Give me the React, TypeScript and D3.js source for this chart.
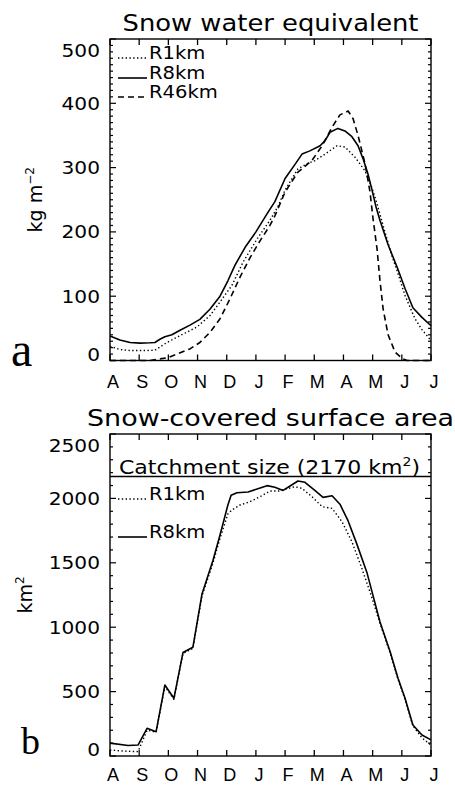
import React, { useEffect, useRef } from 'react';
import * as d3 from 'd3';

const months = ['A', 'S', 'O', 'N', 'D', 'J', 'F', 'M', 'A', 'M', 'J', 'J'];

// (a) snow water equivalent, kg m-2; time = months since 1 August
const sweR1T = [0, 0.34, 0.69, 1.2, 1.54, 1.95, 2.5, 2.98, 3.43, 3.77, 4.18, 4.56, 5.04, 5.48, 5.76, 6.0, 6.44, 6.75, 7.03, 7.37, 7.78, 8.05, 8.4, 8.74, 8.98, 9.15, 9.42, 9.66, 9.87, 10.11, 10.45, 10.69, 11.0];
const sweR1 = [22, 17, 15.5, 15.5, 16, 28, 41, 52, 70, 91, 117, 153, 189, 218, 240, 265, 298, 306, 311, 321, 334, 332, 316, 295, 268, 244, 200, 163, 135, 101, 65, 48, 31];

const sweR8T = [0, 0.34, 0.69, 1.03, 1.37, 1.54, 1.71, 1.88, 2.12, 2.4, 2.74, 3.08, 3.43, 3.77, 4.04, 4.28, 4.63, 5.0, 5.38, 5.65, 6.0, 6.34, 6.58, 6.85, 7.2, 7.37, 7.54, 7.81, 8.05, 8.29, 8.5, 8.67, 8.84, 8.98, 9.11, 9.25, 9.53, 9.84, 10.11, 10.38, 10.69, 11.0];
const sweR8 = [38, 32, 28, 27, 27.5, 28, 33, 37, 40, 47, 55, 64, 80, 100, 124, 148, 176, 200, 228, 247, 283, 305, 321, 326, 334, 342, 355, 361, 357, 348, 334, 314, 290, 265, 240, 218, 180, 145, 112, 82, 67, 54];

const sweR46T = [0, 1.37, 1.61, 1.95, 2.3, 2.74, 3.08, 3.43, 3.77, 4.08, 4.46, 4.8, 5.14, 5.48, 5.65, 6.0, 6.44, 6.92, 7.27, 7.61, 7.88, 8.16, 8.33, 8.5, 8.74, 8.91, 9.01, 9.15, 9.25, 9.36, 9.53, 9.77, 10.01, 10.18, 11.0];
const sweR46 = [0, 0, 2, 4, 10, 18, 28, 44, 65, 93, 130, 160, 186, 210, 225, 262, 293, 311, 334, 363, 382, 388, 376, 350, 306, 262, 222, 174, 125, 80, 40, 13, 3, 0, 0];

// (b) snow-covered surface area, km2
const areaR1T = [0, 0.34, 0.69, 0.96, 1.27, 1.58, 1.88, 2.19, 2.5, 2.84, 3.15, 3.53, 3.77, 4.04, 4.18, 4.46, 4.8, 5.14, 5.48, 5.76, 6.34, 6.58, 6.92, 7.27, 7.61, 7.95, 8.29, 8.63, 8.98, 9.25, 9.6, 9.87, 10.11, 10.38, 10.69, 11.0];
const areaR1 = [47, 40, 36, 34, 200, 185, 540, 440, 795, 835, 1240, 1500, 1690, 1880, 1910, 1949, 1975, 2013, 2057, 2057, 2091, 2078, 2013, 1936, 1923, 1819, 1664, 1457, 1227, 1030, 800, 595, 440, 235, 140, 85];

const areaR8T = [0, 0.62, 0.96, 1.27, 1.58, 1.88, 2.19, 2.5, 2.84, 3.15, 3.53, 3.77, 4.04, 4.15, 4.35, 4.73, 5.04, 5.38, 5.65, 5.93, 6.17, 6.44, 6.68, 7.03, 7.3, 7.61, 7.88, 8.16, 8.46, 8.81, 9.25, 9.6, 9.87, 10.11, 10.38, 10.69, 11.0];
const areaR8 = [100, 82, 85, 215, 189, 551, 448, 803, 844, 1255, 1520, 1716, 1949, 2025, 2044, 2050, 2073, 2099, 2086, 2062, 2096, 2135, 2125, 2060, 2008, 2021, 1955, 1825, 1645, 1420, 1043, 810, 603, 448, 241, 163, 125];

const catchmentSize = 2170;

const FONT = '"DejaVu Sans", sans-serif';
const MONTH_FONT = '"Liberation Sans", Arial, sans-serif';

interface Series {
  name: string;
  t: number[];
  v: number[];
  dash: string | null;
}

interface PanelOpts {
  top: number;
  bottom: number;
  yMax: number;
  yMajor: number;
  yMinor: number;
  title: string;
  titleY: number;
  titleLen: number;
  monthDy: number;
  series: Series[];
  legendY: number[];
  letter: string;
  letterX: number;
  letterY: number;
  letterSize: number;
}

type Sel = d3.Selection<SVGSVGElement, unknown, null, undefined>;

// stretch a text sideways, the plotting font is wider than ours
function widen(t: d3.Selection<SVGTextElement, unknown, null, undefined>, k: number) {
  const n = t.node();
  if (!n) return;
  const w = n.getComputedTextLength();
  if (w > 0) t.attr('textLength', w * k).attr('lengthAdjust', 'spacingAndGlyphs');
}

function drawPanel(svg: Sel, o: PanelOpts) {
  const x = d3.scaleLinear().domain([0, 11]).range([110, 431]);
  const y = d3.scaleLinear().domain([0, o.yMax]).range([o.bottom, o.top]);
  const [x0, x1] = x.range();
  const g = svg.append('g');

  const line = d3
    .line<[number, number]>()
    .x((d) => x(d[0]))
    .y((d) => y(d[1]));

  o.series.forEach((s) => {
    const pts = s.t.map((t, i) => [t, s.v[i]] as [number, number]);
    g.append('path')
      .attr('d', line(pts))
      .attr('fill', 'none')
      .attr('stroke', '#000')
      .attr('stroke-width', s.dash === '1.4,2.4' ? 1.4 : 1.6)
      .attr('stroke-linejoin', 'round')
      .attr('stroke-dasharray', s.dash);
  });

  // frame
  g.append('rect')
    .attr('x', x0)
    .attr('y', o.top)
    .attr('width', x1 - x0)
    .attr('height', o.bottom - o.top)
    .attr('fill', 'none')
    .attr('stroke', '#000')
    .attr('stroke-width', 1.4);

  // month ticks, top and bottom, pointing in
  months.forEach((m, i) => {
    const px = x(i);
    g.append('line').attr('x1', px).attr('x2', px).attr('y1', o.bottom).attr('y2', o.bottom - 6).attr('stroke', '#000').attr('stroke-width', 1.3);
    g.append('line').attr('x1', px).attr('x2', px).attr('y1', o.top).attr('y2', o.top + 6).attr('stroke', '#000').attr('stroke-width', 1.3);
    g.append('text')
      .attr('x', px + 3)
      .attr('y', o.bottom + o.monthDy)
      .attr('text-anchor', 'middle')
      .attr('font-family', MONTH_FONT)
      .attr('font-size', 18)
      .text(m);
  });

  // y ticks left and right
  const majors = d3.range(0, o.yMax + 1, o.yMajor);
  const minors = d3.range(0, o.yMax + 1, o.yMinor).filter((v) => v % o.yMajor !== 0);
  const tick = (v: number, len: number) => {
    g.append('line').attr('x1', x0).attr('x2', x0 + len).attr('y1', y(v)).attr('y2', y(v)).attr('stroke', '#000').attr('stroke-width', 1.2);
    g.append('line').attr('x1', x1).attr('x2', x1 - len).attr('y1', y(v)).attr('y2', y(v)).attr('stroke', '#000').attr('stroke-width', 1.2);
  };
  majors.forEach((v) => tick(v, 6));
  minors.forEach((v) => tick(v, 3));

  majors.forEach((v, i) => {
    const shift = i === 0 ? -6 : i === majors.length - 1 ? 12 : 0;
    const t = g.append('text')
      .attr('x', 100)
      .attr('y', y(v) + shift)
      .attr('dy', '0.36em')
      .attr('text-anchor', 'end')
      .attr('font-family', FONT)
      .attr('font-size', 18)
      .text(String(v));
    widen(t, 1.12);
  });

  // title
  g.append('text')
    .attr('x', (x0 + x1) / 2)
    .attr('y', o.titleY)
    .attr('text-anchor', 'middle')
    .attr('font-family', FONT)
    .attr('font-size', 23)
    .attr('textLength', o.titleLen)
    .attr('lengthAdjust', 'spacingAndGlyphs')
    .text(o.title);

  // legend
  o.series.forEach((s, i) => {
    const ly = o.legendY[i];
    g.append('line')
      .attr('x1', x0 + 8)
      .attr('x2', x0 + 37)
      .attr('y1', ly - 1)
      .attr('y2', ly - 1)
      .attr('stroke', '#000')
      .attr('stroke-width', 1.6)
      .attr('stroke-dasharray', s.dash);
    const t = g.append('text')
      .attr('x', x0 + 39)
      .attr('y', ly)
      .attr('font-family', FONT)
      .attr('font-size', 17)
      .text(s.name);
    widen(t, 1.15);
  });

  // panel letter
  g.append('text')
    .attr('x', o.letterX)
    .attr('y', o.letterY)
    .attr('font-family', '"Liberation Serif", "Times New Roman", serif')
    .attr('font-size', o.letterSize)
    .text(o.letter);

  return { x, y };
}

const App: React.FC = () => {
  const svgRef = useRef<SVGSVGElement>(null);

  useEffect(() => {
    if (!svgRef.current) return;
    const svg = d3.select(svgRef.current);
    svg.selectAll('*').remove();

    svg.append('rect').attr('width', 455).attr('height', 785).attr('fill', '#fff');

    drawPanel(svg, {
      top: 39,
      bottom: 360.5,
      yMax: 500,
      yMajor: 100,
      yMinor: 10,
      title: 'Snow water equivalent',
      titleY: 31,
      titleLen: 296,
      monthDy: 27,
      series: [
        { name: 'R1km', t: sweR1T, v: sweR1, dash: '1.4,2.4' },
        { name: 'R8km', t: sweR8T, v: sweR8, dash: null },
        { name: 'R46km', t: sweR46T, v: sweR46, dash: '6,4' },
      ],
      legendY: [59, 79, 98],
      letter: 'a',
      letterX: 11,
      letterY: 366,
      letterSize: 48,
    });

    const b = drawPanel(svg, {
      top: 434,
      bottom: 756,
      yMax: 2500,
      yMajor: 500,
      yMinor: 100,
      title: 'Snow-covered surface area',
      titleY: 426,
      titleLen: 367,
      monthDy: 24.5,
      series: [
        { name: 'R1km', t: areaR1T, v: areaR1, dash: '1.4,2.4' },
        { name: 'R8km', t: areaR8T, v: areaR8, dash: null },
      ],
      legendY: [500, 538],
      letter: 'b',
      letterX: 21,
      letterY: 754,
      letterSize: 38,
    });

    // catchment size line and label
    const [cx0, cx1] = b.x.range();
    svg.append('line')
      .attr('x1', cx0)
      .attr('x2', cx1)
      .attr('y1', b.y(catchmentSize))
      .attr('y2', b.y(catchmentSize))
      .attr('stroke', '#000')
      .attr('stroke-width', 1.5);
    const ct = svg.append('text')
      .attr('x', cx0 + 9)
      .attr('y', b.y(catchmentSize) - 3)
      .attr('font-family', FONT)
      .attr('font-size', 19)
      .attr('textLength', 301)
      .attr('lengthAdjust', 'spacingAndGlyphs');
    ct.append('tspan').text(`Catchment size (${catchmentSize} km`);
    ct.append('tspan').attr('font-size', 12).attr('dy', -8).text('2');
    ct.append('tspan').attr('dy', 8).text(')');

    // y axis titles
    const t1 = svg.append('text')
      .attr('transform', `translate(42,${(39 + 360.5) / 2}) rotate(-90)`)
      .attr('text-anchor', 'middle')
      .attr('font-family', FONT)
      .attr('font-size', 19);
    t1.append('tspan').text('kg m');
    t1.append('tspan').attr('font-size', 12).attr('dy', -8).text('−2');

    const t2 = svg.append('text')
      .attr('transform', `translate(32,${(434 + 756) / 2}) rotate(-90)`)
      .attr('text-anchor', 'middle')
      .attr('font-family', FONT)
      .attr('font-size', 19);
    t2.append('tspan').text('km');
    t2.append('tspan').attr('font-size', 12).attr('dy', -8).text('2');
  }, []);

  return (
    <svg
      ref={svgRef}
      width={455}
      height={785}
      style={{ position: 'absolute', left: 0, top: 0, display: 'block' }}
    />
  );
};

export default App;
